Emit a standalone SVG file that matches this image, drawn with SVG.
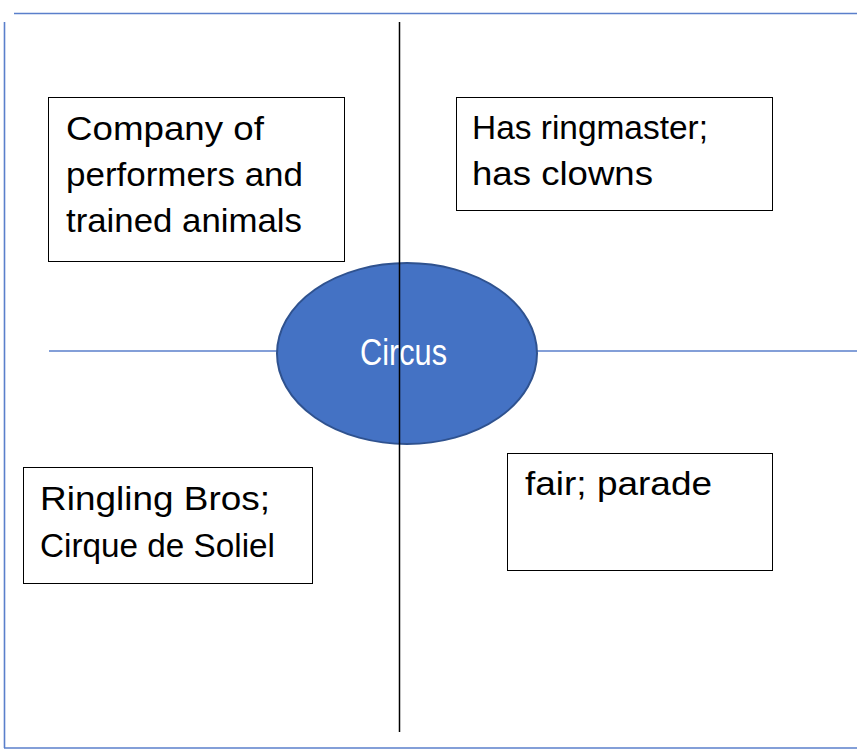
<svg xmlns="http://www.w3.org/2000/svg" width="857" height="750" viewBox="0 0 857 750">
<style>
.blue{stroke:#5A7FCB;stroke-width:1.6;fill:none}
.axis{stroke:#000;stroke-width:1.5;fill:none}
.box{fill:#fff;stroke:#000;stroke-width:1}
.t{font-family:"Liberation Sans",Arial,sans-serif;font-size:33px;fill:#000}
.c{font-family:"Liberation Sans",Arial,sans-serif;font-size:37px;fill:#fff}
</style>
<rect width="857" height="750" fill="#fff"/>
<g id="connectors">
<line class="blue" x1="14" y1="13.5" x2="857" y2="13.5"/>
<line class="blue" x1="4.5" y1="22" x2="4.5" y2="748"/>
<line class="blue" x1="4" y1="748" x2="857" y2="748"/>
<line class="blue" x1="49" y1="351" x2="857" y2="351"/>
</g>
<g id="circus">
<ellipse cx="407" cy="353.5" rx="130" ry="90.5" fill="#4472C4" stroke="#2F528F" stroke-width="2"/>
<text class="c" x="360" y="365" textLength="87" lengthAdjust="spacingAndGlyphs">Circus</text>
</g>
<g id="vertical-axis">
<line class="axis" x1="399.5" y1="22" x2="399.5" y2="732"/>
</g>
<g id="definition">
<rect class="box" x="48.5" y="97.5" width="296" height="164"/>
<text class="t" x="66" y="140" textLength="198" lengthAdjust="spacingAndGlyphs">Company of</text>
<text class="t" x="66" y="186" textLength="237" lengthAdjust="spacingAndGlyphs">performers and</text>
<text class="t" x="66" y="232" textLength="236" lengthAdjust="spacingAndGlyphs">trained animals</text>
</g>
<g id="characteristics">
<rect class="box" x="456.5" y="97.5" width="316" height="113"/>
<text class="t" x="472" y="139" textLength="236" lengthAdjust="spacingAndGlyphs">Has ringmaster;</text>
<text class="t" x="472" y="185" textLength="181" lengthAdjust="spacingAndGlyphs">has clowns</text>
</g>
<g id="examples">
<rect class="box" x="23.5" y="467.5" width="289" height="116"/>
<text class="t" x="40" y="510" textLength="230" lengthAdjust="spacingAndGlyphs">Ringling Bros;</text>
<text class="t" x="40" y="557" textLength="235" lengthAdjust="spacingAndGlyphs">Cirque de Soliel</text>
</g>
<g id="non-examples">
<rect class="box" x="507.5" y="453.5" width="265" height="117"/>
<text class="t" x="525" y="495" textLength="187" lengthAdjust="spacingAndGlyphs">fair; parade</text>
</g>
</svg>
